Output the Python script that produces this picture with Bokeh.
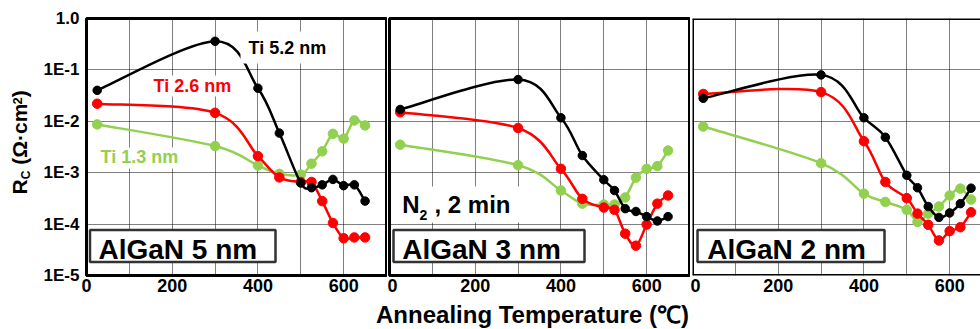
import math
from bokeh.plotting import figure
from bokeh.layouts import row, column
from bokeh.models import Range1d, FixedTicker, BoxAnnotation, Label, Span, ColumnDataSource
from bokeh.embed import file_html
from bokeh.resources import INLINE

# ---------------- data ----------------
TEMPS = [25, 300, 400, 450, 500, 525, 550, 575, 600, 625, 650]

PANEL_NAMES = ["AlGaN 5 nm", "AlGaN 3 nm", "AlGaN 2 nm"]
SERIES_NAMES = ["Ti 5.2 nm", "Ti 2.6 nm", "Ti 1.3 nm"]

# AlGaN 5 nm
A5_TI52 = [4.0e-2, 3.6e-1, 4.4e-2, 5.9e-3, 6.3e-4, 5.1e-4, 5.8e-4, 7.4e-4, 5.6e-4, 5.8e-4, 2.8e-4]
A5_TI26 = [2.2e-2, 1.46e-2, 2.1e-3, 8.1e-4, 6.6e-4, 6.6e-4, 2.8e-4, 1.05e-4, 5.3e-5, 5.5e-5, 5.5e-5]
A5_TI13 = [8.7e-3, 3.3e-3, 1.38e-3, 9.5e-4, 9.2e-4, 1.5e-3, 2.6e-3, 5.7e-3, 4.6e-3, 1.04e-2, 8.3e-3]
# AlGaN 3 nm
A3_TI52 = [1.7e-2, 6.5e-2, 1.17e-2, 2.16e-3, 7.3e-4, 4.5e-4, 2.0e-4, 1.76e-4, 1.4e-4, 1.15e-4, 1.4e-4]
A3_TI26 = [1.5e-2, 7.4e-3, 1.19e-3, 3.1e-4, 2.1e-4, 1.9e-4, 6.5e-5, 3.8e-5, 9.8e-5, 2.5e-4, 3.6e-4]
A3_TI13 = [3.5e-3, 1.4e-3, 4.5e-4, 2.5e-4, 2.4e-4, 2.4e-4, 3.3e-4, 8.0e-4, 1.19e-3, 1.34e-3, 2.7e-3]
# AlGaN 2 nm
A2_TI52 = [2.8e-2, 8.0e-2, 1.17e-2, 4.9e-3, 8.9e-4, 5.1e-4, 2.2e-4, 1.35e-4, 1.65e-4, 2.5e-4, 5.0e-4]
A2_TI26 = [3.4e-2, 3.7e-2, 4.1e-3, 6.6e-4, 3.2e-4, 1.6e-4, 9.7e-5, 4.8e-5, 7.3e-5, 8.7e-5, 1.7e-4]
A2_TI13 = [7.9e-3, 1.53e-3, 3.9e-4, 2.7e-4, 1.9e-4, 1.1e-4, 1.6e-4, 2.2e-4, 3.6e-4, 4.9e-4, 3.0e-4]

YTICKS = [1e-5, 1e-4, 1e-3, 1e-2, 1e-1, 1.0]
YTICK_LABELS = ["1E-5", "1E-4", "1E-3", "1E-2", "1E-1", "1.0"]
XTICKS = [0, 100, 200, 300, 400, 500, 600, 700]
XTICK_LABELS = ["0", "", "200", "", "400", "", "600", ""]

X_TITLE = "Annealing Temperature (\u2103)"

# ---------------- style / layout ----------------
FONT = "Liberation Sans"
COLORS = ["#000000", "#FF0000", "#92D050"]
MSIZE = [8.5, 9.5, 9.5]
PX_PER_X = 300 / 700.0
TOP = 18            # frame top (px)
FRAME_H = 257       # frame height (px)
PANEL_H = 300       # height of the panel row
TITLE_H = 329 - PANEL_H
W0 = 40             # width of the strip that holds the y title
BASE_K = 0.36       # Label baseline correction (em)


def bez_cols(xs, ys):
    lx = [float(v) for v in xs]
    ly = [math.log10(v) for v in ys]
    n = len(lx)
    c = dict(x0=[], y0=[], x1=[], y1=[], cx0=[], cy0=[], cx1=[], cy1=[])
    for i in range(n - 1):
        a = max(i - 1, 0)
        d = min(i + 2, n - 1)
        c["x0"].append(lx[i]); c["y0"].append(ys[i])
        c["x1"].append(lx[i + 1]); c["y1"].append(ys[i + 1])
        c["cx0"].append(lx[i] + (lx[i + 1] - lx[a]) / 6.0)
        c["cy0"].append(10 ** (ly[i] + (ly[i + 1] - ly[a]) / 6.0))
        c["cx1"].append(lx[i + 1] - (lx[d] - lx[i]) / 6.0)
        c["cy1"].append(10 ** (ly[i + 1] - (ly[d] - ly[i]) / 6.0))
    return c


def ry(px):
    # vertical pixel position -> data value on the log axis
    return 10 ** (-(px - TOP) / (FRAME_H / 5.0))


def make_fig(idx, xmax, border_left, border_right):
    p = figure(frame_width=int(round(xmax * PX_PER_X)), frame_height=FRAME_H,
               x_range=Range1d(0, xmax), y_range=Range1d(1e-5, 1.0), y_axis_type="log",
               output_backend="svg", toolbar_location=None,
               min_border_left=border_left, min_border_right=border_right,
               min_border_top=TOP, min_border_bottom=PANEL_H - TOP - FRAME_H)
    p.background_fill_color = "white"
    p.border_fill_color = "white"
    p.outline_line_color = "black"
    p.outline_line_width = 3

    ax = p.xaxis[0]
    ax.ticker = FixedTicker(ticks=XTICKS)
    ax.major_label_overrides = {t: l for t, l in zip(XTICKS, XTICK_LABELS)}
    ax.major_tick_in = 0
    ax.major_tick_out = 0
    ax.minor_tick_in = 0
    ax.minor_tick_out = 0
    ax.axis_line_color = None
    ax.major_label_standoff = 3
    ax.major_label_text_font = FONT
    ax.major_label_text_font_style = "bold"
    ax.major_label_text_font_size = "18px"
    ax.major_label_text_color = "black"

    ay = p.yaxis[0]
    ay.ticker = FixedTicker(ticks=YTICKS)
    ay.major_label_overrides = {t: l for t, l in zip(YTICKS, YTICK_LABELS)}
    ay.major_tick_in = 0
    ay.major_tick_out = 0
    ay.minor_tick_in = 0
    ay.minor_tick_out = 0
    ay.axis_line_color = None
    ay.major_label_standoff = 7
    ay.major_label_text_font = FONT
    ay.major_label_text_font_style = "bold"
    ay.major_label_text_font_size = "17px"
    ay.major_label_text_color = "black"
    if idx > 0:
        ay.visible = False
        p.ygrid.ticker = FixedTicker(ticks=YTICKS)

    for g in (p.xgrid, p.ygrid):
        g.grid_line_color = "#000000"
        g.grid_line_dash = "1 1"
        g.grid_line_width = 1
    return p


def blank_fig(w, h):
    p = figure(frame_width=w, frame_height=h, x_range=Range1d(0, w), y_range=Range1d(h, 0),
               output_backend="svg", toolbar_location=None,
               x_axis_location=None, y_axis_location=None,
               min_border_left=0, min_border_right=0, min_border_top=0, min_border_bottom=0)
    p.grid.visible = False
    p.outline_line_color = None
    p.background_fill_color = "white"
    p.border_fill_color = "white"
    return p


def add_series(p, series):
    for k in (2, 1, 0):
        ys = series[k]
        src = ColumnDataSource(bez_cols(TEMPS, ys))
        p.bezier(x0="x0", y0="y0", x1="x1", y1="y1", cx0="cx0", cy0="cy0",
                 cx1="cx1", cy1="cy1", source=src, line_color=COLORS[k], line_width=2.5)
        p.scatter(TEMPS, ys, size=MSIZE[k], marker="circle", fill_color=COLORS[k],
                  line_color=COLORS[k])


def white_box(p, l, r, t, b, border=None):
    p.add_layout(BoxAnnotation(left=l, right=r, top=t, bottom=b, fill_color="white",
                               fill_alpha=1.0, line_color=border or "white",
                               line_alpha=1.0 if border else 0.0,
                               line_width=2.5 if border else 0))


def text(p, x, y, s, size, color="black", angle=0.0, align="left"):
    p.add_layout(Label(x=x, y=y, text=s, text_font=FONT, text_font_style="bold",
                       text_font_size="%gpx" % size, text_color=color, angle=angle,
                       text_align=align, text_baseline="alphabetic"))


def ptext(p, x_of, xpx, base_px, s, size, color="black"):
    # place text so that its baseline sits at pixel row base_px
    text(p, x_of(xpx), ry(base_px - BASE_K * size), s, size, color)


def panel_box(p, x_of, left_px, right_px, text_px, name):
    white_box(p, x_of(left_px), x_of(right_px), ry(229.5), ry(261.5), border="#333333")
    ptext(p, x_of, text_px, 259, name, 28)


# ---------------- y title strip ----------------
f0 = blank_fig(W0, PANEL_H)
pieces = [("R", 21, 0.722, 26.7), ("C", 12, 0.722, 29.7), ("", 21, 0.278, 0),
          ("(\u03a9\u00b7cm", 21, 2.879, 26.7), ("2", 13, 0.556, 21.5), (")", 21, 0.333, 26.7)]
ypos = 176.0
for s, fs, em, base in pieces:
    if s:
        text(f0, base - BASE_K * fs, ypos, s, fs, angle=math.pi / 2)
    ypos -= fs * em

# ---------------- panel 1 ----------------
x1 = lambda px: (px - 86) * (1 / PX_PER_X)
p1 = make_fig(0, 700, 86 - W0, 1)
add_series(p1, [A5_TI52, A5_TI26, A5_TI13])
white_box(p1, x1(240), x1(336), ry(31), ry(63))
ptext(p1, x1, 248, 53.5, SERIES_NAMES[0], 18, COLORS[0])
white_box(p1, x1(148), x1(238), ry(75), ry(96))
ptext(p1, x1, 153, 91.7, SERIES_NAMES[1], 18, COLORS[1])
white_box(p1, x1(95), x1(185), ry(147), ry(168))
ptext(p1, x1, 100, 163.3, SERIES_NAMES[2], 18, COLORS[2])
panel_box(p1, x1, 89.5, 275, 98, PANEL_NAMES[0])

# ---------------- panel 2 ----------------
x2 = lambda px: (px - 389) * (1 / PX_PER_X)
p2 = make_fig(1, 700, 2, 1)
add_series(p2, [A3_TI52, A3_TI26, A3_TI13])
white_box(p2, x2(392), x2(520), ry(186), ry(222))
ptext(p2, x2, 401.7, 213, "N", 24)
ptext(p2, x2, 419, 220, "2", 14)
ptext(p2, x2, 434, 213, ", 2 min", 24)
panel_box(p2, x2, 393, 584, 401.7, PANEL_NAMES[1])

# ---------------- panel 3 ----------------
x3 = lambda px: (px - 692) * (1 / PX_PER_X)
p3 = make_fig(2, 288 / PX_PER_X, 2, 0)
p3.outline_line_color = None
add_series(p3, [A2_TI52, A2_TI26, A2_TI13])
for loc, dim in ((0, "height"), (1.0, "width"), (1e-5, "width")):
    p3.add_layout(Span(location=loc, dimension=dim, line_color="black", line_width=3))
panel_box(p3, x3, 697, 884, 706.7, PANEL_NAMES[2])

# ---------------- x title strip ----------------
ft = blank_fig(980, TITLE_H)
text(ft, 532, (323 - PANEL_H) - BASE_K * 24, X_TITLE, 24, align="center")

layout = column(row(f0, p1, p2, p3), ft)
open("out.html", "w").write(file_html(layout, INLINE, title="Rc vs annealing temperature"))
